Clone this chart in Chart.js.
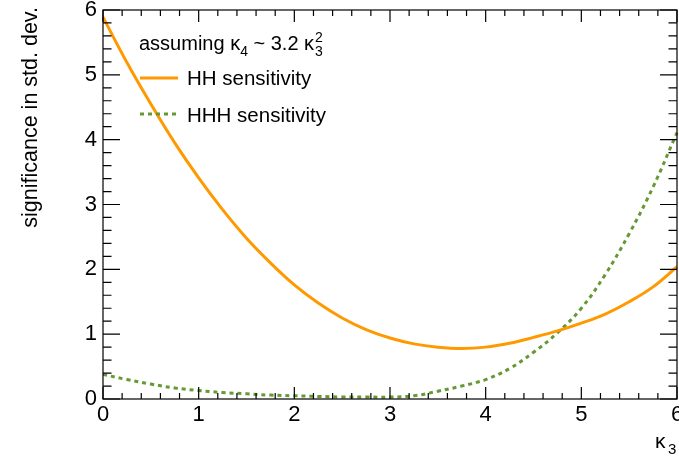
<!DOCTYPE html>
<html>
<head>
<meta charset="utf-8">
<script src="https://cdn.jsdelivr.net/npm/chart.js@4.4.1/dist/chart.umd.min.js"></script>
<style>
  html, body { margin: 0; padding: 0; background: #fff; }
  #wrap { width: 679px; height: 468px; }
</style>
</head>
<body>
<div id="wrap"><canvas id="chart" width="679" height="468"></canvas></div>
<script>
// kappa_3 scan, significance curves
const kappa3 = [0, 0.25, 0.5, 0.75, 1, 1.25, 1.5, 1.75, 2, 2.25, 2.5, 2.75, 3,
                3.25, 3.5, 3.75, 4, 4.25, 4.5, 4.75, 5, 5.25, 5.5, 5.75, 6];
const hhSens  = [5.89, 5.19, 4.55, 3.95, 3.41, 2.92, 2.48, 2.10, 1.76, 1.48, 1.25, 1.07, 0.94,
                 0.85, 0.80, 0.78, 0.80, 0.86, 0.95, 1.05, 1.17, 1.31, 1.50, 1.73, 2.04];
const hhhSens = [0.38, 0.30, 0.23, 0.17, 0.13, 0.10, 0.08, 0.06, 0.05, 0.04, 0.03, 0.03, 0.03,
                 0.05, 0.12, 0.20, 0.30, 0.47, 0.72, 1.02, 1.40, 1.92, 2.55, 3.27, 4.11];

const COLORS = { hh: '#ff9900', hhh: '#669933', axis: '#000' };
const FONT = 'Liberation Sans, Arial, Helvetica, sans-serif';

function pts(ys){ return kappa3.map((x, i) => ({ x, y: ys[i] })); }

// ROOT-like frame with inward ticks on all four sides
const frameTicks = {
  id: 'frameTicks',
  afterDraw(chart) {
    const { ctx, chartArea: a, scales: { x, y } } = chart;
    ctx.save();
    ctx.strokeStyle = COLORS.axis;
    ctx.lineWidth = 1.2;
    ctx.strokeRect(a.left, a.top, a.right - a.left, a.bottom - a.top);
    ctx.beginPath();
    for (let v = 0; v <= 6.0001; v += 0.2) {
      const major = Math.abs(v - Math.round(v)) < 1e-6;
      const px = x.getPixelForValue(v);
      const lx = major ? 12 : 6;
      ctx.moveTo(px, a.bottom); ctx.lineTo(px, a.bottom - lx);
      ctx.moveTo(px, a.top); ctx.lineTo(px, a.top + lx);
      const py = y.getPixelForValue(v);
      const ly = major ? 17 : 8.5;
      ctx.moveTo(a.left, py); ctx.lineTo(a.left + ly, py);
      ctx.moveTo(a.right, py); ctx.lineTo(a.right - ly, py);
    }
    ctx.stroke();
    ctx.restore();
  }
};

// axis titles and the text legend
const labels = {
  id: 'labels',
  afterDraw(chart) {
    const { ctx } = chart;
    ctx.save();
    ctx.fillStyle = '#000';
    ctx.textBaseline = 'alphabetic';

    // y title, right aligned at the top
    ctx.save();
    ctx.translate(37, 7);
    ctx.rotate(-Math.PI / 2);
    ctx.textAlign = 'right';
    ctx.font = '21.5px ' + FONT;
    ctx.fillText('significance in std. dev.', 0, 0);
    ctx.restore();

    // x title kappa_3
    ctx.textAlign = 'left';
    ctx.font = '21px ' + FONT;
    ctx.fillText('\u03ba', 655, 448);
    ctx.font = '15px ' + FONT;
    ctx.fillText('3', 668, 454);

    // legend header: assuming k4 ~ 3.2 k3^2
    let xx = 139;
    const by = 50;
    const put = (t, f, dy) => { ctx.font = f; ctx.fillText(t, xx, by + dy); xx += ctx.measureText(t).width; };
    put('assuming ', '20px ' + FONT, 0);
    put('\u03ba', '20px ' + FONT, 0);
    put('4', '14px ' + FONT, 6);
    put(' ~ 3.2 ', '20px ' + FONT, 0);
    put('\u03ba', '20px ' + FONT, 0);
    ctx.font = '14px ' + FONT;
    ctx.fillText('2', xx + 1, by - 8);
    ctx.fillText('3', xx + 1, by + 6);

    // legend entries
    ctx.font = '20.5px ' + FONT;
    ctx.lineWidth = 3;
    ctx.strokeStyle = COLORS.hh;
    ctx.beginPath(); ctx.moveTo(140, 78); ctx.lineTo(178, 78); ctx.stroke();
    ctx.fillText('HH sensitivity', 187, 85);
    ctx.strokeStyle = COLORS.hhh;
    ctx.setLineDash([4, 4]);
    ctx.beginPath(); ctx.moveTo(140, 114); ctx.lineTo(178, 114); ctx.stroke();
    ctx.setLineDash([]);
    ctx.fillText('HHH sensitivity', 187, 122);
    ctx.restore();
  }
};

new Chart(document.getElementById('chart').getContext('2d'), {
  type: 'line',
  data: {
    datasets: [
      {
        label: 'HH sensitivity',
        data: pts(hhSens),
        borderColor: COLORS.hh,
        borderWidth: 3,
        pointRadius: 0,
        tension: 0.4
      },
      {
        label: 'HHH sensitivity',
        data: pts(hhhSens),
        borderColor: COLORS.hhh,
        borderWidth: 3,
        borderDash: [4, 4],
        pointRadius: 0,
        tension: 0.4
      }
    ]
  },
  options: {
    responsive: false,
    animation: false,
    clip: false,
    layout: { padding: { left: 0, top: 10, right: 2, bottom: 0 } },
    plugins: { legend: { display: false }, tooltip: { enabled: false } },
    scales: {
      x: {
        type: 'linear', min: 0, max: 6,
        ticks: { stepSize: 1, color: '#000', font: { family: FONT, size: 22 }, padding: 3, maxRotation: 0 },
        grid: { display: false, drawTicks: false },
        border: { display: false },
        afterFit(s) { s.height = 69; s.paddingLeft = 0; s.paddingRight = 0; }
      },
      y: {
        type: 'linear', min: 0, max: 6,
        ticks: { stepSize: 1, color: '#000', font: { family: FONT, size: 22 }, padding: 6 },
        grid: { display: false, drawTicks: false },
        border: { display: false },
        afterFit(s) { s.width = 103; s.paddingTop = 0; s.paddingBottom = 0; }
      }
    }
  },
  plugins: [frameTicks, labels]
});
</script>
</body>
</html>
